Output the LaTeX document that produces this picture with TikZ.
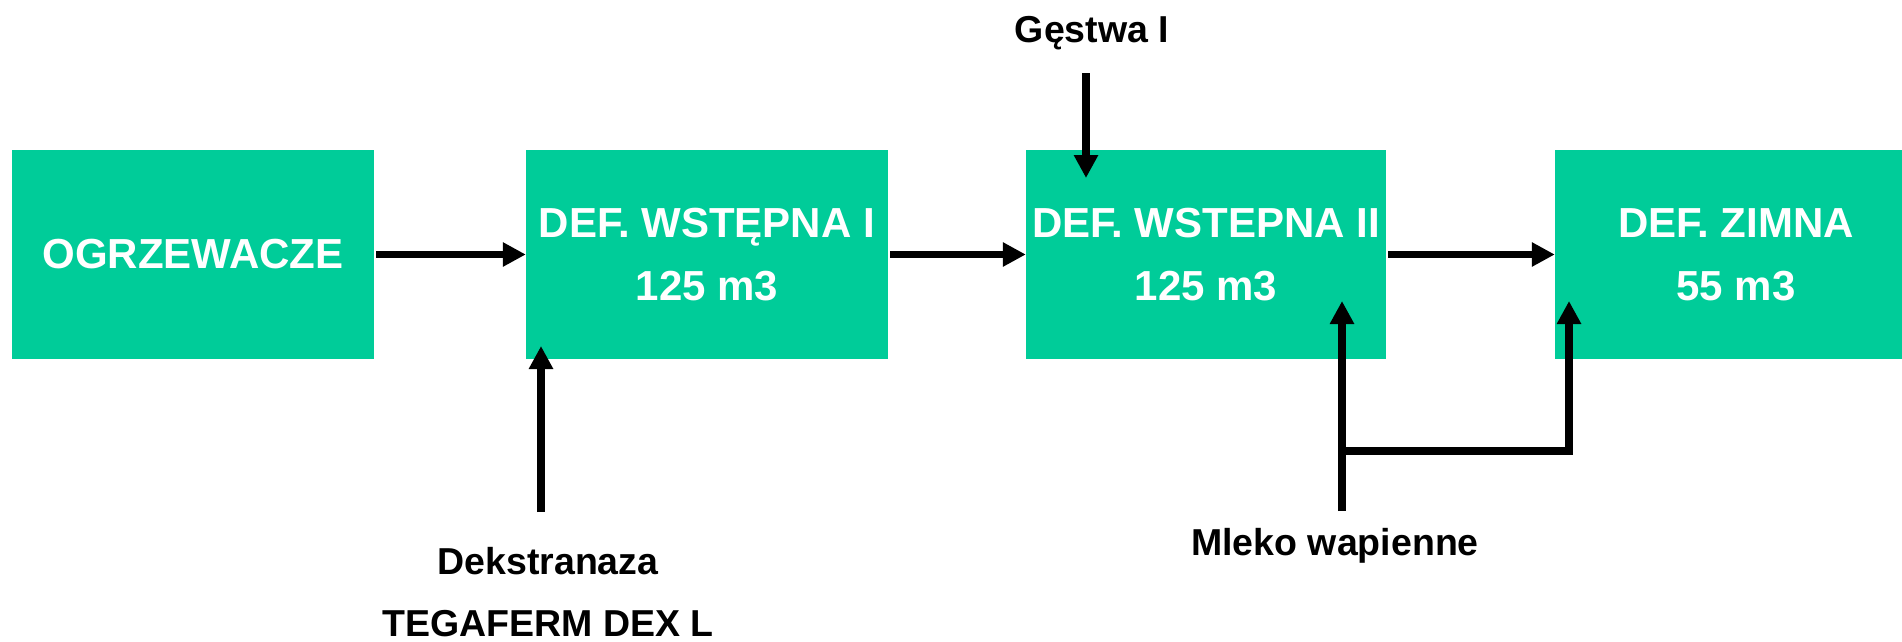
\documentclass[tikz,border=0pt]{standalone}
\usepackage{fontspec}
\setmainfont{Liberation Sans}
\usetikzlibrary{arrows.meta}
\definecolor{boxgreen}{RGB}{0,204,153}
\begin{document}
\begin{tikzpicture}[x=1pt,y=-1pt,
  procbox/.style={fill=boxgreen,draw=none,minimum height=209pt,inner sep=0pt,
    text=white,align=center,font=\fontsize{42}{63}\selectfont\bfseries},
  lbl/.style={inner sep=0pt,align=center,font=\fontsize{37.5}{52}\selectfont\bfseries},
  flow/.style={line width=7pt,-{Triangle[length=23pt,width=23pt]}},
  pipe/.style={line width=8pt,line cap=butt}
]
\useasboundingbox (0,0) rectangle (1902,642);
\node[procbox,minimum width=362pt] (b1) at (193,254.5) {\raisebox{-3pt}{OGRZEWACZE}};
\node[procbox,minimum width=362pt] (b2) at (707,254.5) {\raisebox{-3pt}{DEF. WSTĘPNA I}\\\raisebox{-3pt}{125 m3}};
\node[procbox,minimum width=360pt] (b3) at (1206,254.5) {\raisebox{-3pt}{DEF. WSTEPNA II}\\\raisebox{-3pt}{125 m3}};
\node[procbox,minimum width=362pt] (b4) at (1736,254.5) {\raisebox{-3pt}{DEF. ZIMNA}\\\raisebox{-3pt}{55 m3}};

\node[lbl] (g) at (1092,33) {Gęstwa I};
\node[lbl] (d1) at (548,561) {Dekstranaza};
\node[lbl] (d2) at (548,624) {TEGAFERM DEX L};
\node[lbl] (m) at (1335,546) {Mleko wapienne};

\draw[flow] (b1.east) ++(2,0) -- (b2.west);
\draw[flow] (b2.east) ++(2,0) -- (b3.west);
\draw[flow] (b3.east) ++(2,0) -- (b4.west);

\coordinate (gs) at (1086,73);
\coordinate (gt) at (1086,178);
\draw[flow,line width=8pt] (gs) -- (gt);

\coordinate (ds) at (541,512);
\coordinate (dt) at (541,346);
\draw[flow,line width=8pt] (ds) -- (dt);

\coordinate (ms) at (1342,511);
\coordinate (mt) at (1342,301);
\coordinate (mj) at (1342,451);
\coordinate (mc) at (1569,451);
\coordinate (mt2) at (1569,301);
\draw[flow,line width=8pt] (ms) -- (mt);
\draw[flow,line width=8pt] (mj) -- (mc) -- (mt2);
\end{tikzpicture}
\end{document}
